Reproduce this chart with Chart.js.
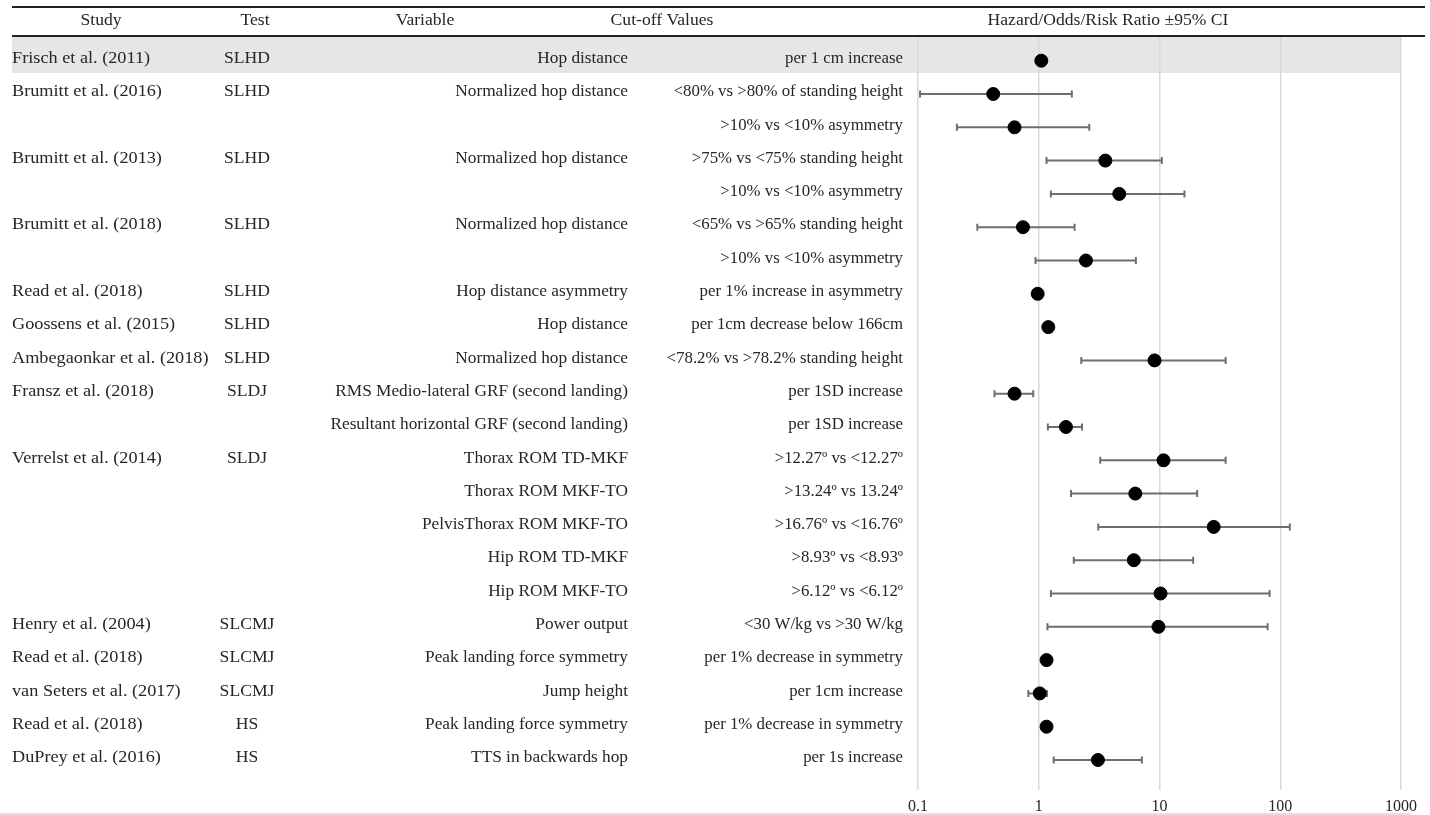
<!DOCTYPE html>
<html>
<head>
<meta charset="utf-8">
<script src="https://cdn.jsdelivr.net/npm/chart.js@4"></script>
<style>
  body { margin: 0; background: #fff; }
  #wrap { width: 1430px; height: 815px; position: relative; }
</style>
</head>
<body>
<div id="wrap"><canvas id="forest"></canvas></div>
<script>
// table columns, one entry per row (top to bottom)
const studies = ['Frisch et al. (2011)', 'Brumitt et al. (2016)', '', 'Brumitt et al. (2013)', '', 'Brumitt et al. (2018)', '',
  'Read et al. (2018)', 'Goossens et al. (2015)', 'Ambegaonkar et al. (2018)', 'Fransz et al. (2018)', '',
  'Verrelst et al. (2014)', '', '', '', '', 'Henry et al. (2004)', 'Read et al. (2018)', 'van Seters et al. (2017)',
  'Read et al. (2018)', 'DuPrey et al. (2016)'];
const tests = ['SLHD', 'SLHD', '', 'SLHD', '', 'SLHD', '', 'SLHD', 'SLHD', 'SLHD', 'SLDJ', '', 'SLDJ', '', '', '', '',
  'SLCMJ', 'SLCMJ', 'SLCMJ', 'HS', 'HS'];
const variables = ['Hop distance', 'Normalized hop distance', '', 'Normalized hop distance', '', 'Normalized hop distance', '',
  'Hop distance asymmetry', 'Hop distance', 'Normalized hop distance', 'RMS Medio-lateral GRF (second landing)',
  'Resultant horizontal GRF (second landing)', 'Thorax ROM TD-MKF', 'Thorax ROM MKF-TO', 'PelvisThorax ROM MKF-TO',
  'Hip ROM TD-MKF', 'Hip ROM MKF-TO', 'Power output', 'Peak landing force symmetry', 'Jump height',
  'Peak landing force symmetry', 'TTS in backwards hop'];
const cutoffs = ['per 1 cm increase', '<80% vs >80% of standing height', '>10% vs <10% asymmetry', '>75% vs <75% standing height',
  '>10% vs <10% asymmetry', '<65% vs >65% standing height', '>10% vs <10% asymmetry', 'per 1% increase in asymmetry',
  'per 1cm decrease below 166cm', '<78.2% vs >78.2% standing height', 'per 1SD increase', 'per 1SD increase',
  '>12.27º vs <12.27º', '>13.24º vs 13.24º', '>16.76º vs <16.76º', '>8.93º vs <8.93º', '>6.12º vs <6.12º',
  '<30 W/kg vs >30 W/kg', 'per 1% decrease in symmetry', 'per 1cm increase', 'per 1% decrease in symmetry', 'per 1s increase'];

// ratio and 95% CI (null = no interval drawn)
const ratios = [1.05, 0.42, 0.63, 3.56, 4.64, 0.74, 2.46, 0.98, 1.20, 9.1, 0.63, 1.68, 10.8, 6.3, 28.1, 6.13, 10.2, 9.8, 1.16, 1.02, 1.16, 3.09];
const lower  = [null, 0.104, 0.21, 1.16, 1.26, 0.31, 0.94, 0.96, null, 2.25, 0.43, 1.19, 3.23, 1.85, 3.11, 1.95, 1.26, 1.18, null, 0.82, null, 1.33];
const upper  = [null, 1.88, 2.62, 10.45, 16.1, 1.98, 6.37, 1.0, null, 35.3, 0.90, 2.28, 35.3, 20.5, 120, 19.0, 81.6, 78.6, null, 1.17, null, 7.14];

const xTicks = [0.1, 1, 10, 100, 1000];
const xTickLabels = ['0.1', '1', '10', '100', '1000'];

const FONT = '16px "Liberation Serif", "Times New Roman", serif';
const TXT = '#262626';
const ROW_H = 33.3;      // px per row
const FIRST_ROW = 23.7;  // px from plot top to first row centre

//fix the row pitch once the plot area is known
const rowPitchPlugin = {
  id: 'rowPitch',
  afterLayout(chart) {
    const y = chart.scales.y;
    y.min = 1 - FIRST_ROW / ROW_H;
    y.max = y.min + (y.bottom - y.top) / ROW_H;
    y.configure();
  }
};

//background + shaded first row
const shadePlugin = {
  id: 'shade',
  beforeDraw(chart) {
    const ctx = chart.ctx, y = chart.scales.y;
    ctx.save();
    ctx.fillStyle = '#fff';
    ctx.fillRect(0, 0, chart.width, chart.height);
    ctx.fillStyle = '#e7e6e6';
    const top = chart.chartArea.top;
    const bot = y.getPixelForValue(1.37);
    ctx.fillRect(12, top, chart.chartArea.right - 12, bot - top);
    ctx.restore();
  }
};

//error bars drawn from the CI arrays
const errorBarPlugin = {
  id: 'errbars',
  beforeDatasetsDraw(chart) {
    const ctx = chart.ctx, x = chart.scales.x, y = chart.scales.y;
    ctx.save();
    ctx.strokeStyle = '#6e6e6e';
    ctx.lineWidth = 2;
    for (let i = 0; i < ratios.length; i++) {
      if (lower[i] == null) continue;
      const py = y.getPixelForValue(i + 1);
      const x1 = x.getPixelForValue(lower[i]);
      const x2 = x.getPixelForValue(upper[i]);
      ctx.beginPath();
      ctx.moveTo(x1, py); ctx.lineTo(x2, py);
      ctx.moveTo(x1, py - 3.5); ctx.lineTo(x1, py + 3.5);
      ctx.moveTo(x2, py - 3.5); ctx.lineTo(x2, py + 3.5);
      ctx.stroke();
    }
    ctx.restore();
  }
};

function wideText(ctx, str, x, y, align, sx) {
  if (!str) return;
  ctx.save();
  ctx.translate(x, y);
  ctx.scale(sx, 1);
  ctx.textAlign = align;
  ctx.fillText(str, 0, 0);
  ctx.restore();
}

//table text, header and rules
const tablePlugin = {
  id: 'table',
  afterDraw(chart) {
    const ctx = chart.ctx, y = chart.scales.y;
    ctx.save();
    ctx.font = FONT;
    ctx.fillStyle = TXT;
    ctx.textBaseline = 'middle';

    // header
    wideText(ctx, 'Study', 101, 21, 'center', 1.1);
    wideText(ctx, 'Test', 255, 21, 'center', 1.1);
    wideText(ctx, 'Variable', 425, 21, 'center', 1.1);
    wideText(ctx, 'Cut-off Values', 662, 21, 'center', 1.1);
    wideText(ctx, 'Hazard/Odds/Risk Ratio ±95% CI', 1108, 21, 'center', 1.1);

    ctx.strokeStyle = '#222';
    ctx.lineWidth = 2;
    ctx.beginPath();
    ctx.moveTo(12, 7); ctx.lineTo(1425, 7);
    ctx.moveTo(12, 36); ctx.lineTo(1425, 36);
    ctx.stroke();

    for (let i = 0; i < studies.length; i++) {
      const py = y.getPixelForValue(i + 1) - 2;
      wideText(ctx, studies[i], 12, py, 'left', 1.14);
      wideText(ctx, tests[i], 247, py, 'center', 1.1);
      wideText(ctx, variables[i], 628, py, 'right', 1.08);
      wideText(ctx, cutoffs[i], 903, py, 'right', 1.05);
    }

    // bottom rule
    ctx.strokeStyle = '#d9d9d9';
    ctx.lineWidth = 1.5;
    ctx.beginPath();
    ctx.moveTo(0, 814); ctx.lineTo(1410, 814);
    ctx.stroke();
    ctx.restore();
  }
};

const ctx = document.getElementById('forest').getContext('2d');
new Chart(ctx, {
  type: 'scatter',
  data: {
    datasets: [{
      data: ratios.map((r, i) => ({ x: r, y: i + 1 })),
      backgroundColor: '#000',
      borderColor: '#000',
      pointRadius: 6.5,
      pointHoverRadius: 6.5
    }]
  },
  options: {
    responsive: true,
    maintainAspectRatio: false,
    animation: false,
    layout: { padding: { left: 918, right: 29, top: 37, bottom: -8 } },
    plugins: { legend: { display: false }, tooltip: { enabled: false } },
    scales: {
      x: {
        type: 'logarithmic',
        min: 0.1,
        max: 1000,
        afterBuildTicks: axis => { axis.ticks = xTicks.map(v => ({ value: v })); },
        ticks: {
          autoSkip: false,
          maxRotation: 0,
          padding: 7,
          color: TXT,
          font: { family: '"Liberation Serif", "Times New Roman", serif', size: 16 },
          callback: v => xTickLabels[xTicks.indexOf(v)]
        },
        grid: { color: '#d9d9d9', lineWidth: 1.5, tickLength: 0 },
        border: { display: false }
      },
      y: {
        type: 'linear',
        min: 0,
        max: 23,
        reverse: true,
        display: false
      }
    }
  },
  plugins: [rowPitchPlugin, shadePlugin, errorBarPlugin, tablePlugin]
});
</script>
</body>
</html>
